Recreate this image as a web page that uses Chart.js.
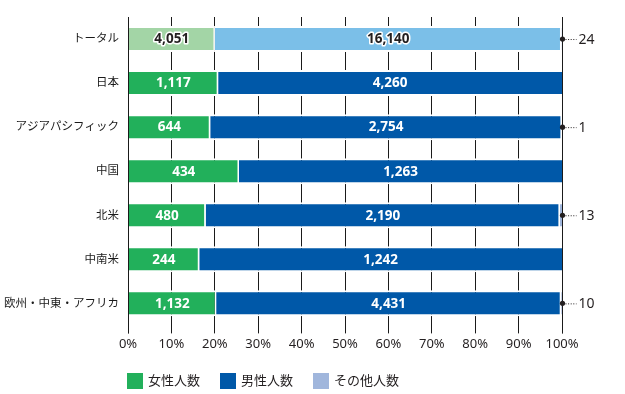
<!DOCTYPE html>
<html><head><meta charset="utf-8">
<script src="https://cdn.jsdelivr.net/npm/chart.js@4/dist/chart.umd.min.js"></script>
<style>html,body{margin:0;padding:0;background:#fff;}#wrap{width:625px;height:394px;}</style>
</head><body><div id="wrap"><canvas id="c" width="625" height="394"></canvas></div>
<script>
const categories = ['トータル','日本','アジアパシフィック','中国','北米','中南米','欧州・中東・アフリカ'];
const seriesNames = ['女性人数','男性人数','その他人数'];
const femaleCounts = [4051,1117,644,434,480,244,1132];
const maleCounts = [16140,4260,2754,1263,2190,1242,4431];
const otherCounts = [24,0,1,0,13,0,10];
const tickLabels = ['0%','10%','20%','30%','40%','50%','60%','70%','80%','90%','100%'];

const totals = categories.map((_, i) => femaleCounts[i] + maleCounts[i] + otherCounts[i]);
const pct = arr => arr.map((v, i) => v / totals[i] * 100);

const FONT = "'Noto Sans', 'Noto Sans CJK JP', sans-serif";
const GREEN = '#22b05b', BLUE = '#0058a8', OTHER = '#a0b6dc';
const GREEN_T = '#a3d5a6', BLUE_T = '#7bbfe8';
const legendColors = [GREEN, BLUE, OTHER];

const barStyle = (rightBorder) => ({
  borderColor: '#ffffff',
  borderWidth: ctx => ({top: 2, bottom: 2, left: 0, right: rightBorder(ctx.dataIndex)}),
  borderSkipped: false,
  barPercentage: 0.59,
  categoryPercentage: 1
});

const fmt = v => v.toLocaleString('en-US');

const overlay = {
  id: 'overlay',
  afterDatasetsDraw(chart) {
    const ctx = chart.ctx;
    const xs = chart.scales.x;
    const area = chart.chartArea;
    [femaleCounts, maleCounts].forEach((counts, di) => {
      const meta = chart.getDatasetMeta(di);
      meta.data.forEach((el, i) => {
        const cx = (el.x + el.base) / 2;
        ctx.save();
        ctx.font = 'bold 13.5px ' + FONT;
        ctx.textAlign = 'center';
        ctx.textBaseline = 'middle';
        const t = fmt(counts[i]);
        if (i === 0) {
          ctx.lineWidth = 3; ctx.strokeStyle = '#ffffff'; ctx.lineJoin = 'round';
          ctx.strokeText(t, cx, el.y + 0.5);
          ctx.fillStyle = '#231f20';
        } else {
          ctx.fillStyle = '#ffffff';
        }
        ctx.fillText(t, cx, el.y + 0.5);
        ctx.restore();
      });
    });
    ctx.save();
    ctx.strokeStyle = '#1a1a1a'; ctx.lineWidth = 1;
    [0, 100].forEach(v => {
      const x = Math.round(xs.getPixelForValue(v)) + 0.5;
      ctx.beginPath(); ctx.moveTo(x, area.top); ctx.lineTo(x, area.bottom + 8); ctx.stroke();
    });
    ctx.restore();
    const meta2 = chart.getDatasetMeta(2);
    meta2.data.forEach((el, i) => {
      if (!otherCounts[i]) return;
      const x = Math.round(xs.getPixelForValue(100)) + 0.5;
      const y = el.y;
      ctx.save();
      ctx.fillStyle = '#231f20';
      ctx.beginPath(); ctx.arc(x, y, 2.6, 0, Math.PI * 2); ctx.fill();
      ctx.strokeStyle = '#231f20'; ctx.lineWidth = 1; ctx.setLineDash([1, 1.6]);
      ctx.beginPath(); ctx.moveTo(x + 3, y + 0.5); ctx.lineTo(x + 14, y + 0.5); ctx.stroke();
      ctx.setLineDash([]);
      ctx.font = '14px ' + FONT;
      ctx.textAlign = 'left'; ctx.textBaseline = 'middle';
      ctx.fillText(String(otherCounts[i]), x + 16, y + 0.5);
      ctx.restore();
    });
  },
  afterDraw(chart) {
    const ctx = chart.ctx;
    let x = chart.chartArea.left - 1;
    const top = 373;
    ctx.save();
    ctx.font = '13px ' + FONT;
    ctx.textBaseline = 'middle';
    ctx.textAlign = 'left';
    seriesNames.forEach((name, i) => {
      ctx.fillStyle = legendColors[i];
      ctx.fillRect(x, top, 16, 16);
      ctx.fillStyle = '#231f20';
      ctx.fillText(name, x + 21, top + 8.5);
      x += 21 + ctx.measureText(name).width + 20;
    });
    ctx.restore();
  }
};

new Chart(document.getElementById('c'), {
  type: 'bar',
  data: {
    labels: categories,
    datasets: [
      Object.assign({label: seriesNames[0], data: pct(femaleCounts), backgroundColor: categories.map((_, i) => i === 0 ? GREEN_T : GREEN)}, barStyle(() => 1.5)),
      Object.assign({label: seriesNames[1], data: pct(maleCounts), backgroundColor: categories.map((_, i) => i === 0 ? BLUE_T : BLUE)}, barStyle(i => otherCounts[i] ? 1.5 : 0)),
      Object.assign({label: seriesNames[2], data: pct(otherCounts), backgroundColor: OTHER}, barStyle(() => 0))
    ]
  },
  options: {
    indexAxis: 'y',
    responsive: false,
    animation: false,
    devicePixelRatio: 1,
    layout: {padding: {top: 17, right: 63, bottom: 39, left: 0}},
    plugins: {legend: {display: false}, tooltip: {enabled: false}},
    scales: {
      x: {
        stacked: true, min: 0, max: 100,
        grid: {color: '#1a1a1a', lineWidth: 1, tickLength: 8, drawTicks: true},
        border: {display: false},
        ticks: {stepSize: 10, padding: 3, color: '#231f20', font: {family: FONT, size: 13},
          callback: (v, idx) => tickLabels[idx]}
      },
      y: {
        stacked: true,
        grid: {display: false, drawTicks: false},
        border: {display: true, color: '#1a1a1a', width: 1},
        ticks: {padding: 9, color: '#1a1a1a', font: {family: FONT, size: 11.5}},
        afterFit: s => { s.width = 128; }
      }
    }
  },
  plugins: [overlay]
});
</script></body></html>
